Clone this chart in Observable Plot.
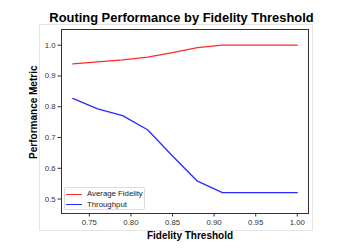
<!DOCTYPE html>
<html>
<head>
<meta charset="utf-8">
<script src="https://cdn.jsdelivr.net/npm/d3@7"></script>
<script src="https://cdn.jsdelivr.net/npm/@observablehq/plot@0.6"></script>
<style>
  html, body { margin: 0; padding: 0; background: #fff; }
  #wrap { position: relative; width: 364px; height: 251px; font-family: "Liberation Sans", Arial, Helvetica, sans-serif; }
  #outer { position: absolute; left: 39px; top: 24px; width: 272px; height: 205px; border: 1px solid #e4e4e4; }
  #chart { position: absolute; left: 0; top: 0; }
  #legend { position: absolute; left: 64px; top: 187px; width: 79px; height: 21px; border: 1px solid #dcdcdc; border-radius: 2px; background: rgba(255,255,255,0.8); font-size: 7.8px; color: #222; }
  .item { position: absolute; left: 0; height: 10px; width: 100%; }
  .item .sw { position: absolute; left: 1px; width: 16px; height: 0; border-top: 1.3px solid; top: 4.5px; }
  .item .lb { position: absolute; left: 22px; top: 0; line-height: 10px; white-space: nowrap; }
</style>
</head>
<body>
<div id="wrap">
  <div id="outer"></div>
  <div id="chart"></div>
  <div id="legend"></div>
</div>
<script>
const thresholds = [0.73, 0.76, 0.79, 0.82, 0.85, 0.88, 0.91, 0.94, 0.97, 1.00];
const avgFidelity = [0.939, 0.946, 0.952, 0.961, 0.976, 0.992, 1.000, 1.000, 1.000, 1.000];
const throughput = [0.827, 0.793, 0.771, 0.725, 0.640, 0.558, 0.521, 0.521, 0.521, 0.521];
const seriesNames = ["Average Fidelity", "Throughput"];
const seriesColors = ["#ff2a2a", "#2a2aff"];
const xTicks = [0.75, 0.80, 0.85, 0.90, 0.95, 1.00];
const yTicks = [0.5, 0.6, 0.7, 0.8, 0.9, 1.0];
const titleText = "Routing Performance by Fidelity Threshold";
const xLabel = "Fidelity Threshold";
const yLabel = "Performance Metric";

const rows = [];
thresholds.forEach((t, i) => {
  rows.push({x: t, y: avgFidelity[i], s: seriesNames[0]});
  rows.push({x: t, y: throughput[i], s: seriesNames[1]});
});

const chart = Plot.plot({
  width: 364,
  height: 251,
  marginTop: 29,
  marginRight: 56,
  marginBottom: 38,
  marginLeft: 61,
  style: {background: "transparent", fontFamily: "'Liberation Sans', Arial, Helvetica, sans-serif"},
  x: {domain: [0.7165, 1.0135]},
  y: {domain: [0.453, 1.051]},
  color: {domain: seriesNames, range: seriesColors},
  marks: [
    Plot.axisX({ticks: xTicks, tickFormat: d3.format(".2f"), tickSize: 3.5, tickPadding: 2.5, fontSize: 7.8, color: "#333", label: null}),
    Plot.axisY({ticks: yTicks, tickFormat: d3.format(".1f"), tickSize: 3.5, tickPadding: 2.5, fontSize: 7.8, color: "#333", label: null}),
    Plot.lineY(rows, {x: "x", y: "y", z: "s", stroke: "s", strokeWidth: 1.3}),
    Plot.frame({stroke: "#333", strokeWidth: 1}),
    Plot.text([titleText], {text: d => d, frameAnchor: "top", textAnchor: "middle", dx: -3.5, dy: -16.5, fontSize: 12.9, fontWeight: "bold", fill: "#000"}),
    Plot.text([xLabel], {text: d => d, frameAnchor: "bottom", textAnchor: "middle", dx: 5, dy: 25, fontSize: 10, fontWeight: "bold", fill: "#000"}),
    Plot.text([yLabel], {text: d => d, frameAnchor: "left", textAnchor: "middle", rotate: -90, dx: -27.7, dy: -9.3, fontSize: 10, fontWeight: "bold", fill: "#000"})
  ]
});
document.getElementById("chart").appendChild(chart);

const legend = document.getElementById("legend");
seriesNames.forEach((name, i) => {
  const it = document.createElement("div");
  it.className = "item";
  it.style.top = (1 + i * 10.5) + "px";
  const sw = document.createElement("div");
  sw.className = "sw";
  sw.style.borderTopColor = seriesColors[i];
  const lb = document.createElement("div");
  lb.className = "lb";
  lb.textContent = name;
  it.appendChild(sw);
  it.appendChild(lb);
  legend.appendChild(it);
});
</script>
</body>
</html>
